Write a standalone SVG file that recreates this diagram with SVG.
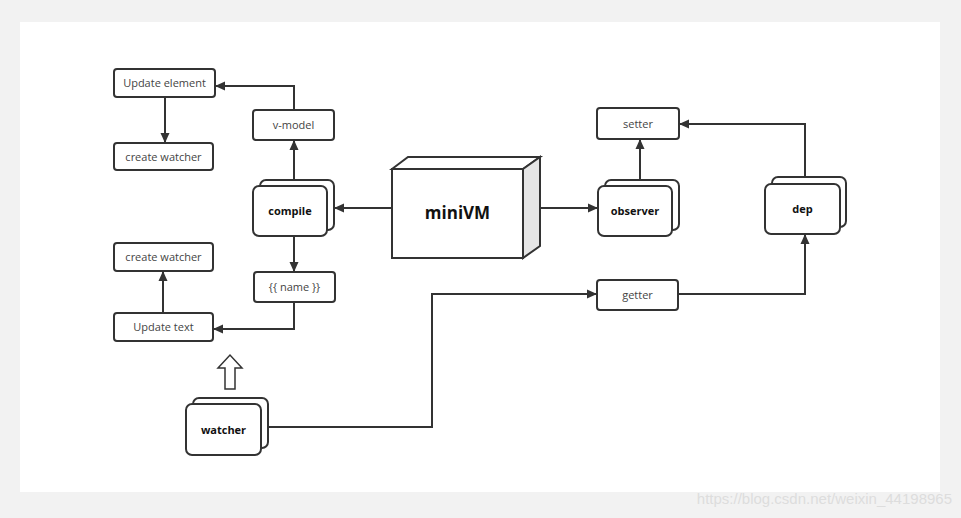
<svg xmlns="http://www.w3.org/2000/svg" width="961" height="518" viewBox="0 0 961 518">
<defs>
<marker id="ah" markerWidth="10" markerHeight="10" refX="9" refY="5" orient="auto" markerUnits="userSpaceOnUse"><path d="M0,0.5 L10,5 L0,9.5 Z" fill="#333"/></marker>
<style>
.b{fill:#fff;stroke:#333;stroke-width:2}
.t{font-family:"Open Sans","Liberation Sans",sans-serif;font-size:11px;fill:#444;text-anchor:middle}
.bt{font-family:"Open Sans","Liberation Sans",sans-serif;font-size:11px;font-weight:bold;fill:#111;text-anchor:middle}
.c{fill:none;stroke:#333;stroke-width:2;marker-end:url(#ah)}
</style>
</defs>
<rect width="961" height="518" fill="#f2f2f2"/>
<rect x="20" y="22" width="920" height="470" fill="#fff"/>
<g id="update-element"><rect class="b" x="114" y="69" width="101" height="28" rx="3"/><text class="t" x="164.5" y="87">Update element</text></g>
<g id="create-watcher-1"><rect class="b" x="114" y="143" width="99" height="27" rx="3"/><text class="t" x="163.5" y="161">create watcher</text></g>
<g id="v-model"><rect class="b" x="253" y="110" width="81" height="30" rx="3"/><text class="t" x="293.5" y="129">v-model</text></g>
<g id="compile"><rect class="b" x="260" y="180" width="74" height="50" rx="6"/><rect class="b" x="253" y="186" width="74" height="50" rx="6"/><text class="bt" x="290" y="215">compile</text></g>
<g id="name"><rect class="b" x="254" y="272" width="81" height="30" rx="3"/><text class="t" x="294.5" y="291">{{  name }}</text></g>
<g id="create-watcher-2"><rect class="b" x="114" y="243" width="99" height="28" rx="3"/><text class="t" x="163.5" y="261">create watcher</text></g>
<g id="update-text"><rect class="b" x="114" y="313" width="99" height="28" rx="3"/><text class="t" x="163.5" y="331">Update text</text></g>
<g id="minivm"><polygon points="392,169 408,157 540,157 523,169" fill="#fff" stroke="#333" stroke-width="2"/><polygon points="523,169 540,157 540,246 523,258" fill="#e6e6e6" stroke="#333" stroke-width="2"/><rect class="b" x="392" y="169" width="131" height="89"/><text class="bt" x="457.5" y="219" style="font-size:17px">miniVM</text></g>
<g id="observer"><rect class="b" x="605" y="180" width="74" height="50" rx="6"/><rect class="b" x="598" y="186" width="74" height="50" rx="6"/><text class="bt" x="635" y="215">observer</text></g>
<g id="setter"><rect class="b" x="597" y="108" width="82" height="31" rx="3"/><text class="t" x="638" y="128">setter</text></g>
<g id="dep"><rect class="b" x="772" y="177" width="74" height="50" rx="6"/><rect class="b" x="765" y="184" width="75" height="50" rx="6"/><text class="bt" x="802.5" y="213">dep</text></g>
<g id="getter"><rect class="b" x="597" y="280" width="81" height="30" rx="3"/><text class="t" x="637.5" y="299">getter</text></g>
<g id="watcher"><rect class="b" x="193" y="398" width="75" height="50" rx="6"/><rect class="b" x="186" y="404" width="75" height="51" rx="6"/><text class="bt" x="223.5" y="434">watcher</text></g>
<g id="hollow-arrow"><polygon points="225,389 235,389 235,368 242,368 230,355 218,368 225,368" fill="#fff" stroke="#333" stroke-width="1.5"/></g>
<g id="connectors">
<path class="c" d="M294,110 V86 H216"/>
<path class="c" d="M165,97 V142"/>
<path class="c" d="M294,180 V141"/>
<path class="c" d="M392,208 H335"/>
<path class="c" d="M294,236 V271"/>
<path class="c" d="M294,302 V329 H214"/>
<path class="c" d="M163,313 V272"/>
<path class="c" d="M540,208 H597"/>
<path class="c" d="M640,180 V140"/>
<path class="c" d="M805,177 V124 H680"/>
<path class="c" d="M268,427 H432 V294 H596"/>
<path class="c" d="M678,294 H805 V235"/>
</g>
<text x="952" y="504" style="font-family:'Liberation Sans',sans-serif;font-size:15px;fill:#ddd;text-anchor:end">https://blog.csdn.net/weixin_44198965</text>
</svg>
